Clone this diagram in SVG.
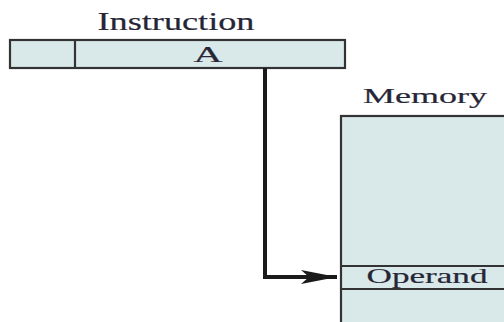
<svg xmlns="http://www.w3.org/2000/svg" width="504" height="322" viewBox="0 0 504 322">
<style>
.box{fill:#d9e9e9;stroke:#333;stroke-width:2.2}
.ln{stroke:#333;stroke-width:2.2;fill:none}
.t{font-family:"Liberation Serif","Times New Roman",serif;fill:#262636;stroke:#262636;stroke-width:0.2;text-anchor:middle}
.wire{stroke:#1a1a1a;stroke-width:4;fill:none}
</style>
<defs>
<marker id="ah" markerUnits="userSpaceOnUse" markerWidth="40" markerHeight="16" refX="36" refY="8" orient="auto">
<path d="M0,1 L36,8 L0,15 L8,8 Z" fill="#1a1a1a"/>
</marker>
</defs>
<rect width="504" height="322" fill="#fff"/>
<g id="instruction">
<text class="t" x="176" y="30" font-size="25" textLength="157" lengthAdjust="spacingAndGlyphs">Instruction</text>
<rect class="box" x="10" y="40" width="335" height="28"/>
<line class="ln" x1="75" y1="40" x2="75" y2="68"/>
<text class="t" x="208" y="62" font-size="23" textLength="29" lengthAdjust="spacingAndGlyphs">A</text>
</g>
<g id="memory">
<text class="t" x="425" y="103" font-size="22" textLength="124" lengthAdjust="spacingAndGlyphs">Memory</text>
<rect class="box" x="341" y="116" width="200" height="240"/>
<line class="ln" x1="341" y1="266" x2="504" y2="266"/>
<line class="ln" x1="341" y1="289" x2="504" y2="289"/>
<text class="t" x="427" y="283" font-size="22" textLength="121" lengthAdjust="spacingAndGlyphs">Operand</text>
</g>
<g id="connectors">
<path class="wire" d="M265,68 V277 H337" marker-end="url(#ah)"/>
</g>
</svg>
